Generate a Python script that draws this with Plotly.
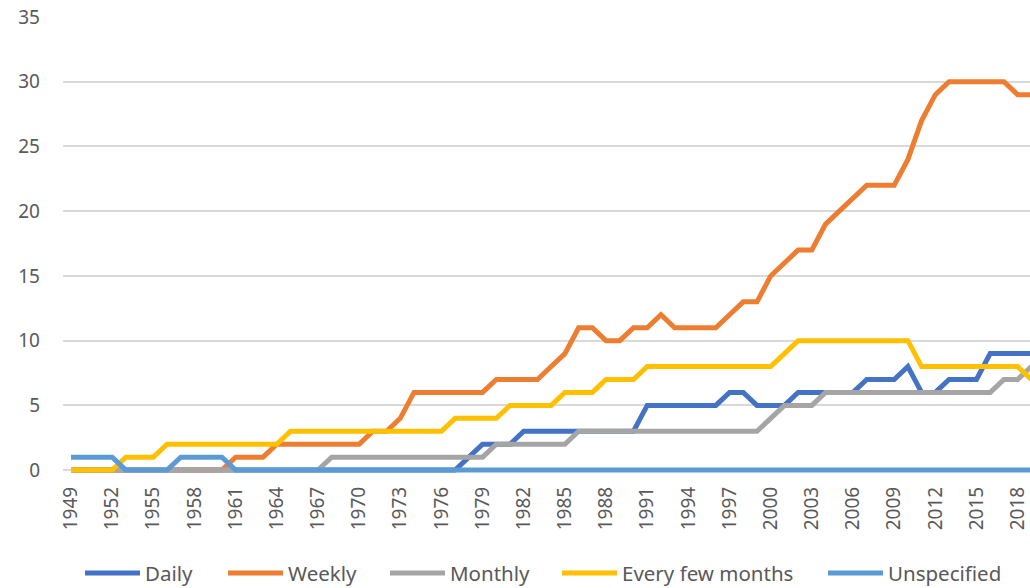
import plotly.graph_objects as go

years = list(range(1949, 2020))

daily = [0]*29 + [1] + [2]*3 + [3]*9 + [5]*6 + [6]*2 + [5]*3 + [6]*5 + [7]*3 + [8] + [6]*2 + [7]*3 + [9]*4
weekly = ([0]*12 + [1]*3 + [2]*7 + [3]*2 + [4] + [6]*6 + [7]*4 + [8] + [9] + [11]*2 + [10]*2 + [11]*2 + [12]
          + [11]*4 + [12] + [13]*2 + [15] + [16] + [17]*2 + [19] + [20] + [21] + [22]*3 + [24] + [27] + [29]
          + [30]*5 + [29]*2)
monthly = [0]*19 + [1]*12 + [2]*6 + [3]*14 + [4] + [5]*3 + [6]*13 + [7]*2 + [8]
few_months = [0]*4 + [1]*3 + [2]*9 + [3]*12 + [4]*4 + [5]*4 + [6]*3 + [7]*3 + [8]*10 + [9] + [10]*9 + [8]*8 + [7]
unspecified = [1]*4 + [0]*4 + [1]*4 + [0]*59

series = [
    ("Daily", daily, "#4472C4"),
    ("Weekly", weekly, "#ED7D31"),
    ("Monthly", monthly, "#A5A5A5"),
    ("Every few months", few_months, "#FFC000"),
    ("Unspecified", unspecified, "#5B9BD5"),
]

tick_years = list(range(1949, 2019, 3))
y_ticks = [0, 5, 10, 15, 20, 25, 30, 35]

# left pixel of each legend entry (legend layout, not data)
legend_left_px = [85, 228, 390, 562, 828]

font_family = "Noto Sans"
txt = "#595959"

fig = go.Figure()
legend_layouts = {}
for i, ((name, vals, color), lx) in enumerate(zip(series, legend_left_px)):
    key = "legend" if i == 0 else f"legend{i+1}"
    fig.add_trace(go.Scatter(x=years, y=vals, name=name, mode="lines",
                             line=dict(color=color, width=5), legend=key))
    legend_layouts[key] = dict(
        orientation="h", xref="container", yref="container",
        x=(lx - 5) / 1030, y=0.025, xanchor="left", yanchor="middle",
        bgcolor="rgba(0,0,0,0)",
        font=dict(size=20.5, color=txt, family=font_family), itemwidth=55)

fig.update_layout(
    width=1030, height=588,
    margin=dict(l=63, r=0, t=17, b=114, autoexpand=False),
    paper_bgcolor="white", plot_bgcolor="white",
    font=dict(family=font_family, size=19, color=txt),
    showlegend=True,
    xaxis=dict(range=[1948.417, 2018.9], tickmode="array", tickvals=tick_years,
               ticktext=[str(t) for t in tick_years], tickangle=-90,
               showgrid=False, zeroline=False, showline=False, ticks="",
               automargin=False,
               ticklabelstandoff=8, tickfont=dict(size=19, color=txt)),
    yaxis=dict(range=[-0.3, 35], tickmode="array", tickvals=y_ticks,
               showgrid=True, gridcolor="#D9D9D9", gridwidth=1.5,
               zeroline=True, zerolinecolor="#D9D9D9", zerolinewidth=1.5,
               showline=False, ticks="", ticklabelstandoff=22, automargin=False,
               tickfont=dict(size=19, color=txt)),
    **legend_layouts,
)

fig.write_html("out.html", config={"displayModeBar": False},
               post_script="document.body.style.margin='0px';document.body.style.overflow='hidden';")
